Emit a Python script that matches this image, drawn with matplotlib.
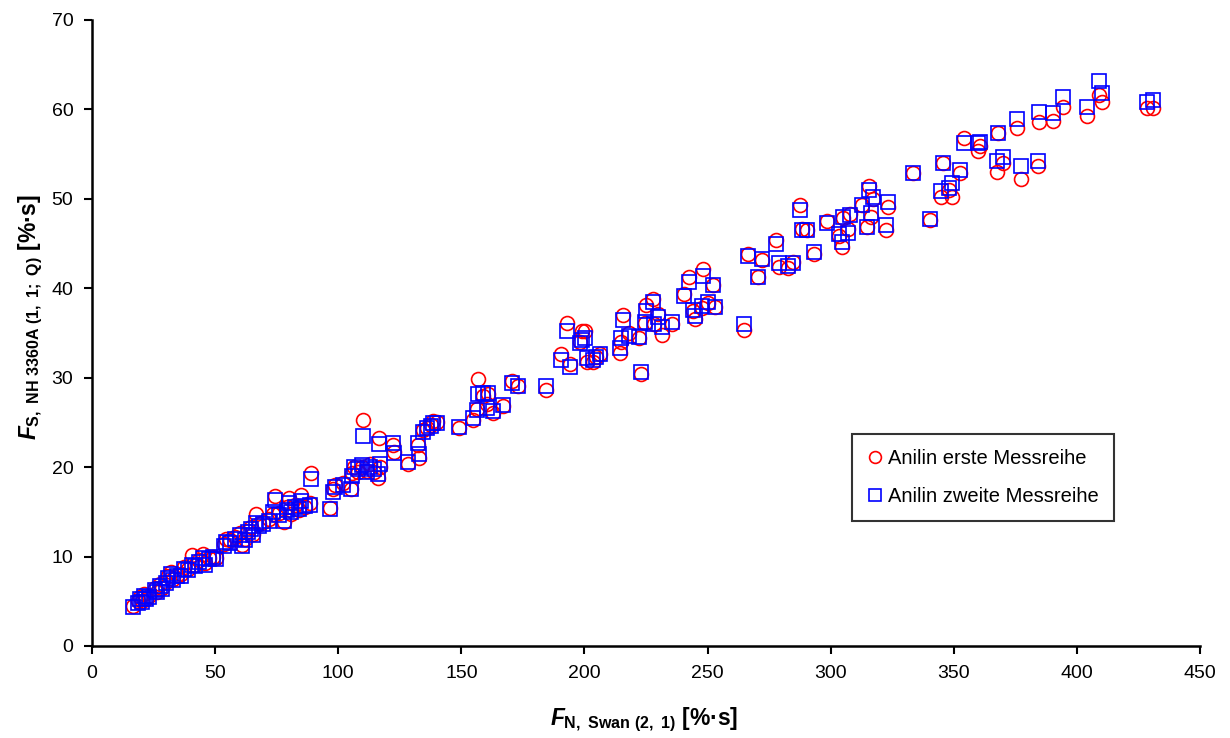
import matplotlib
matplotlib.use("Agg")
import matplotlib.pyplot as plt

plt.rcParams['font.family'] = ['Liberation Sans', 'DejaVu Sans']
plt.rcParams['mathtext.fontset'] = 'custom'
plt.rcParams['mathtext.rm'] = 'Liberation Sans'
plt.rcParams['mathtext.bf'] = 'Liberation Sans:bold'
plt.rcParams['mathtext.it'] = 'Liberation Sans:bold:italic'

# x values (F_N, Swan) shared by both series
x_vals = [16.5, 18.5, 19.5, 20.5, 21.0, 22.0, 23.0, 25.5, 26.5, 27.5, 28.5, 30.0, 31.0, 32.0, 33.0,
          34.5, 36.0, 37.5, 39.0, 40.5, 42.0, 43.5, 45.0, 46.0, 47.5, 49.0, 50.5, 53.5, 54.5, 56.0,
          58.0, 60.0, 61.0, 62.0, 63.5, 64.5, 65.5, 66.5, 68.0, 69.5, 72.0, 73.5, 74.5, 76.0, 78.0,
          79.0, 80.0, 81.0, 82.5, 84.0, 85.0, 86.5, 88.5, 89.0, 96.5, 98.0, 98.5, 102.0, 105.0, 105.5,
          106.5, 108.0, 109.5, 110.0, 111.5, 113.0, 114.5, 116.0, 116.5, 117.0, 122.3, 122.6, 128.4, 132.4, 132.8,
          134.4, 136.0, 137.5, 138.5, 140.0, 149.0, 154.8, 156.3, 156.8, 159.0, 161.0, 160.4, 162.9, 167.0, 170.6,
          173.0, 184.4, 190.5, 192.9, 194.1, 198.2, 199.0, 200.2, 201.0, 203.5, 204.7, 206.3, 214.5, 215.0, 215.7,
          218.1, 222.2, 223.0, 224.6, 225.0, 227.9, 228.2, 230.0, 231.5, 235.6, 240.5, 242.5, 244.1, 245.0, 247.8,
          248.0, 250.2, 252.2, 253.0, 264.8, 266.4, 270.5, 272.0, 277.8, 279.0, 282.7, 284.7, 287.5, 288.4, 290.4,
          293.3, 298.5, 303.4, 304.6, 305.0, 307.0, 308.0, 312.8, 314.8, 315.6, 316.4, 317.3, 322.5, 323.3, 333.5,
          340.4, 344.8, 345.6, 348.0, 349.3, 352.6, 354.0, 360.0, 360.7, 367.6, 368.0, 370.0, 375.6, 377.3, 384.2,
          384.6, 390.4, 394.5, 404.0, 409.0, 410.0, 428.5, 431.0]

# y values, series 1 (circles)
y_first = [4.5, 5.0, 5.5, 5.0, 5.8, 5.3, 5.6, 6.5, 6.0, 6.9, 6.5, 7.2, 7.8, 8.3, 7.5,
           7.9, 8.0, 8.8, 8.6, 10.2, 9.0, 9.6, 10.3, 9.3, 9.8, 10.0, 9.8, 11.4, 12.0, 11.8,
           12.2, 12.6, 11.3, 12.0, 12.8, 13.3, 12.5, 14.8, 13.6, 13.9, 14.2, 14.8, 16.8, 14.9, 13.9,
           15.5, 16.5, 14.8, 15.8, 15.2, 16.9, 15.5, 16.0, 19.3, 15.4, 17.5, 18.0, 18.2, 17.5, 19.3,
           20.0, 19.5, 20.0, 25.3, 19.6, 20.3, 19.5, 18.8, 23.3, 20.0, 22.5, 21.7, 20.3, 22.5, 21.0,
           24.2, 24.4, 24.7, 25.1, 25.0, 24.4, 25.3, 26.5, 29.9, 28.0, 28.2, 27.0, 26.1, 26.8, 29.6,
           29.1, 28.6, 32.7, 36.1, 31.5, 34.0, 35.2, 35.2, 31.8, 31.8, 32.3, 32.6, 32.8, 34.0, 37.0,
           35.0, 34.4, 30.4, 36.1, 38.1, 38.8, 36.0, 37.1, 34.8, 36.0, 39.4, 41.3, 37.4, 36.6, 37.8,
           42.1, 38.3, 40.4, 37.9, 35.3, 43.8, 41.2, 43.2, 45.4, 42.4, 42.3, 42.9, 49.3, 46.6, 46.5,
           43.8, 47.5, 45.8, 44.6, 47.9, 46.6, 48.3, 49.3, 46.8, 51.4, 48.0, 50.0, 46.5, 49.1, 52.9,
           47.6, 50.2, 54.0, 51.0, 50.2, 52.9, 56.8, 55.4, 55.9, 53.0, 57.4, 54.0, 57.9, 52.2, 53.7,
           58.6, 58.7, 60.3, 59.3, 61.6, 60.8, 60.2, 60.2]

# y values, series 2 (squares)
y_second = [4.4, 4.8, 5.2, 4.9, 5.6, 5.2, 5.5, 6.3, 6.0, 6.7, 6.4, 7.0, 7.6, 8.0, 7.4,
            7.8, 7.8, 8.6, 8.5, 9.0, 8.9, 9.4, 9.8, 9.0, 9.7, 9.9, 9.7, 11.2, 11.6, 11.5,
            12.0, 12.4, 11.2, 11.8, 12.7, 13.1, 12.4, 13.8, 13.4, 13.6, 14.0, 15.0, 16.3, 14.6, 14.0,
            15.2, 16.0, 15.0, 15.5, 15.3, 16.2, 15.6, 15.8, 18.7, 15.3, 17.2, 17.8, 18.0, 17.6, 19.0,
            20.0, 19.8, 20.2, 23.5, 19.5, 20.0, 19.8, 19.2, 22.6, 20.3, 22.7, 21.6, 20.6, 22.7, 21.5,
            23.9, 24.4, 24.6, 24.9, 24.9, 24.5, 25.5, 26.4, 28.2, 28.3, 28.3, 26.6, 26.3, 26.9, 29.4,
            29.1, 29.1, 32.0, 35.2, 31.2, 33.9, 34.2, 34.4, 32.2, 32.0, 32.3, 32.7, 33.3, 34.4, 36.5,
            34.7, 34.5, 30.6, 36.2, 37.5, 38.5, 36.0, 36.8, 35.7, 36.2, 39.1, 40.7, 37.6, 36.9, 38.0,
            41.4, 38.5, 40.4, 37.9, 36.0, 43.6, 41.3, 43.3, 44.9, 42.8, 42.5, 42.8, 48.7, 46.5, 46.5,
            44.0, 47.3, 46.1, 45.2, 48.0, 46.2, 48.2, 49.3, 46.9, 51.0, 48.4, 50.2, 47.1, 49.6, 52.9,
            47.7, 50.9, 54.0, 51.2, 51.8, 53.2, 56.2, 56.2, 56.4, 54.2, 57.4, 54.7, 58.9, 53.7, 54.2,
            59.7, 59.6, 61.4, 60.3, 63.2, 61.8, 60.8, 61.0]

series_labels = ['Anilin erste Messreihe', 'Anilin zweite Messreihe']
x_ticks = [0, 50, 100, 150, 200, 250, 300, 350, 400, 450]
y_ticks = [0, 10, 20, 30, 40, 50, 60, 70]

fig = plt.figure(figsize=(12.3, 7.38), dpi=100)
ax = fig.add_axes([0.0748, 0.1247, 0.9008, 0.8483])

ax.plot(x_vals, y_first, linestyle='none', marker='o', markersize=10,
        markerfacecolor='none', markeredgecolor='#FF0000', markeredgewidth=1.2,
        label=series_labels[0])
ax.plot(x_vals, y_second, linestyle='none', marker='s', markersize=9.5,
        markerfacecolor='none', markeredgecolor='#0000FF', markeredgewidth=1.2,
        label=series_labels[1])

ax.set_xlim(0, 450)
ax.set_ylim(0, 70)
ax.set_xticks(x_ticks)
ax.set_yticks(y_ticks)
ax.tick_params(axis='both', direction='out', length=5.5, width=1.5, labelsize=14, colors='black')
ax.tick_params(axis='x', pad=8)
ax.tick_params(axis='y', pad=8)
for s in ['top', 'right']:
    ax.spines[s].set_visible(False)
for s in ['left', 'bottom']:
    ax.spines[s].set_linewidth(1.8)

ax.set_xlabel(r'$\mathit{F}_{\mathbf{N,\ Swan\ (2,\ 1)}}$ [%·s]', fontsize=16.5,
              fontweight='bold')
ax.set_ylabel(r'$\mathit{F}_{\mathbf{S,\ NH\ 3360A\ (1,\ 1;\ Q)}}$ [%·s]', fontsize=16.5,
              fontweight='bold')
ax.xaxis.set_label_coords(0.498, -0.096)
ax.yaxis.set_label_coords(-0.042, 0.526)

leg = ax.legend(loc='upper left', bbox_to_anchor=(0.686, 0.339), fontsize=14.5,
                frameon=True, fancybox=False, edgecolor='black', handlelength=0.8,
                handletextpad=0.25, borderpad=0.75, labelspacing=0.95, markerscale=0.85,
                borderaxespad=0)
leg.get_frame().set_linewidth(1.5)

fig.savefig('out.png', dpi=100)
